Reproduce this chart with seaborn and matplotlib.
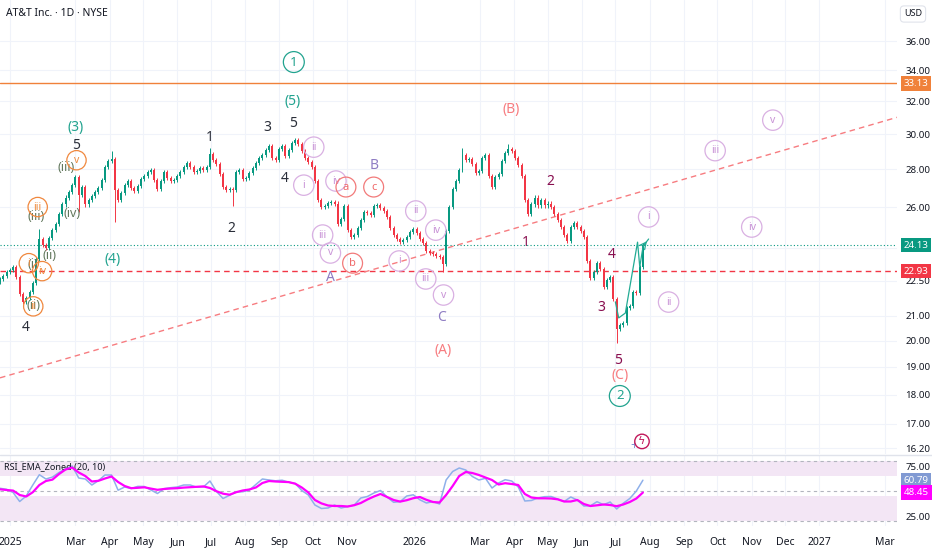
import numpy as np
import pandas as pd
import matplotlib
matplotlib.use("Agg")
import matplotlib.pyplot as plt
import matplotlib.dates as mdates
import matplotlib.transforms as mtrans
from matplotlib.lines import Line2D
from matplotlib.ticker import NullLocator
import seaborn as sns

""" DATA (read off the chart) """
start = "2024-12-23"
open_first = 22.45

# closes, one candle per ~2 sessions
close_a = [22.58, 22.72, 22.90, 22.98, 23.12, 22.67, 21.94, 21.59, 21.77, 22.02,
           22.41, 23.48, 24.41, 24.12, 23.99, 24.46, 24.84, 25.13, 25.63, 26.13,
           26.49, 26.80, 27.16, 27.58, 26.64, 27.05, 26.13, 26.38, 26.59, 26.80,
           27.00, 27.42, 28.12, 28.45, 28.59, 26.90, 26.38, 26.74, 27.16, 27.37,
           27.00, 26.85, 27.10, 27.47, 27.64, 27.85, 27.96, 27.42, 26.95, 27.37]
close_b = [27.85, 27.53, 27.37, 27.42, 27.64, 27.85, 28.12, 28.34, 28.12, 27.85,
           27.90, 28.07, 27.98, 28.10, 28.87, 28.51, 28.29, 27.74, 27.05, 26.90,
           26.95, 26.90, 27.85, 27.96, 27.47, 27.53, 27.80, 28.07, 28.34, 28.65,
           28.81, 29.10, 29.28, 28.65, 28.51, 29.16, 29.28, 28.76, 29.10, 29.46,
           29.67, 29.40, 29.04, 28.65, 28.40, 28.12, 27.37, 26.38, 25.98, 26.03]
close_c = [26.23, 26.28, 26.18, 25.13, 25.38, 26.03, 24.84, 24.51, 24.60, 24.94,
           25.33, 25.73, 25.68, 25.58, 26.03, 26.08, 25.93, 25.78, 25.48, 24.94,
           24.60, 24.41, 24.30, 24.36, 24.51, 24.75, 24.89, 24.70, 24.41, 24.22,
           23.85, 23.76, 23.71, 23.64, 23.58, 23.25, 24.79, 25.98, 26.95, 27.37,
           27.96, 28.81, 28.51, 28.59, 28.29, 27.80, 27.90, 28.65, 28.81, 27.64]
close_d = [27.05, 27.58, 27.74, 28.45, 28.92, 29.16, 29.04, 28.65, 28.23, 27.64,
           26.38, 25.63, 26.13, 26.49, 26.08, 26.38, 26.08, 26.18, 25.98, 25.63,
           25.33, 24.99, 24.60, 24.32, 24.99, 25.18, 24.99, 24.79, 24.51, 23.39,
           22.62, 22.89, 23.30, 23.03, 22.23, 22.53, 22.67, 21.72, 20.48, 20.64,
           20.72, 21.33, 21.42, 22.02, 21.98, 23.12, 24.13]

# long wicks (candle number, extreme price)
wick_idx = [12, 24, 34, 35, 64, 71, 135, 141, 155, 188]
wick_val = [24.89, 25.73, 29.04, 25.23, 29.20, 26.03, 22.90, 29.20, 29.40, 19.90]

# RSI and its EMA, one point per ~4 sessions
rsi_a = [52.7, 51.7, 48.5, 39.5, 45.0, 56.0, 66.3, 62.0, 64.0, 68.5,
         72.3, 75.0, 63.0, 62.0, 56.0, 60.3, 66.0, 66.0, 50.8, 54.0,
         52.5, 54.6, 54.5, 51.0, 47.5, 52.3, 53.3, 54.0, 56.0, 56.0,
         53.8, 54.0, 60.0, 49.5, 42.5, 45.7, 49.0, 49.3, 50.8, 56.5,
         62.0, 61.0, 60.2, 60.8, 58.8, 57.5, 50.5, 46.0, 36.0]
rsi_b = [32.5, 33.0, 36.0, 33.0, 34.5, 36.0, 43.0, 44.5, 48.0, 50.5,
         44.0, 38.7, 39.4, 45.0, 46.2, 41.2, 38.0, 39.3, 37.0, 61.0,
         69.5, 73.0, 71.0, 64.5, 61.0, 62.7, 53.0, 58.0, 61.3, 60.0,
         54.0, 40.0, 40.5, 43.0, 44.3, 44.5, 42.0, 39.5, 44.0, 41.0,
         35.0, 35.2, 39.3, 36.3, 39.0, 32.0, 37.7, 42.5, 50.0, 60.79]
ema_a = [51.7, 51.0, 50.4, 46.0, 44.5, 48.8, 56.0, 60.0, 61.4, 67.0,
         71.5, 73.5, 68.5, 65.0, 59.5, 60.2, 62.5, 64.5, 59.0, 55.0,
         52.8, 53.2, 53.7, 52.4, 51.2, 52.0, 52.5, 52.8, 53.4, 53.8,
         54.2, 54.6, 53.0, 49.8, 47.3, 46.3, 48.8, 50.5, 51.5, 53.5,
         58.0, 60.0, 59.5, 59.2, 58.9, 57.3, 53.5, 48.5, 41.0]
ema_b = [37.6, 35.5, 35.0, 35.0, 34.5, 35.8, 38.0, 41.5, 44.5, 47.0,
         44.0, 41.0, 39.4, 40.8, 42.8, 44.0, 41.2, 39.0, 38.5, 46.0,
         55.0, 65.0, 69.0, 68.0, 66.0, 63.5, 61.0, 56.5, 57.8, 57.0,
         56.0, 47.0, 43.5, 42.7, 42.7, 42.5, 41.7, 39.5, 39.5, 41.0,
         37.0, 35.0, 35.7, 36.5, 36.0, 34.8, 36.5, 39.0, 42.5, 48.45]

# horizontal levels and trend line
level_orange = 33.13
level_last = 24.13
level_red = 22.93
trend_dates = ["2024-12-23", "2027-03-12"]
trend_prices = [18.6, 31.0]

# projected path drawing
path_dates = ["2026-07-01", "2026-07-04", "2026-07-10", "2026-07-21", "2026-07-23", "2026-07-26", "2026-07-31"]
path_prices = [21.59, 20.92, 21.12, 24.27, 23.12, 24.08, 24.42]

price_ticks = [36, 34, 32, 30, 28, 26, 24, 22.5, 21, 20, 19, 18, 17, 16.2]
hidden_ticks = [24]   # covered by the last-price badge
month_ticks = ["2025-01-01", "2025-03-01", "2025-04-01", "2025-05-01", "2025-06-01", "2025-07-01",
               "2025-08-01", "2025-09-01", "2025-10-01", "2025-11-01", "2026-01-01", "2026-03-01",
               "2026-04-01", "2026-05-01", "2026-06-01", "2026-07-01", "2026-08-01", "2026-09-01",
               "2026-10-01", "2026-11-01", "2026-12-01", "2027-01-01", "2027-03-01"]
month_labels = ["2025", "Mar", "Apr", "May", "Jun", "Jul", "Aug", "Sep", "Oct", "Nov", "2026", "Mar",
                "Apr", "May", "Jun", "Jul", "Aug", "Sep", "Oct", "Nov", "Dec", "2027", "Mar"]

# wave labels (text, date, price)
teal_labels = [("(3)", "2025-03-01", 30.41), ("(5)", "2025-09-13", 32.0), ("(4)", "2025-04-04", 23.48)]
teal_circles = [("1", "2025-09-14", 34.55), ("2", "2026-07-05", 17.95)]
black_labels = [("4", "2025-01-15", 20.55), ("5", "2025-03-02", 29.35), ("1", "2025-06-30", 29.77),
                ("2", "2025-07-20", 24.95), ("3", "2025-08-21", 30.41), ("4", "2025-09-06", 27.52),
                ("5", "2025-09-13", 30.65)]
olive_labels = [("(iii)", "2025-02-21", 28.07), ("(iv)", "2025-02-26", 25.69), ("(iii)", "2025-01-25", 25.5),
                ("(ii)", "2025-02-06", 23.66), ("(i)", "2025-01-22", 23.25), ("(ii)", "2025-01-22", 21.45)]
orange_circles = [("v", "2025-03-02", 28.5), ("iii", "2025-01-26", 26.0), ("i", "2025-01-18", 23.29),
                  ("iv", "2025-01-30", 22.93), ("ii", "2025-01-22", 21.4)]
purple_circles = [("i", "2025-09-23", 27.14), ("ii", "2025-10-02", 29.24), ("iii", "2025-10-10", 24.61),
                  ("iv", "2025-10-22", 27.36), ("v", "2025-10-17", 23.76),
                  ("i", "2025-12-18", 23.39), ("ii", "2026-01-02", 25.8), ("iii", "2026-01-11", 22.58),
                  ("iv", "2026-01-20", 24.85), ("v", "2026-01-27", 21.88),
                  ("i", "2026-07-31", 25.5), ("ii", "2026-08-18", 21.58), ("iii", "2026-09-29", 29.04),
                  ("iv", "2026-11-01", 25.0), ("v", "2026-11-20", 30.83)]
purple_letters = [("A", "2025-10-17", 22.66), ("B", "2025-11-25", 28.23), ("C", "2026-01-25", 20.92)]
red_circles = [("a", "2025-10-31", 27.04), ("b", "2025-11-06", 23.29), ("c", "2025-11-25", 27.04)]
red_labels = [("(A)", "2026-01-27", 19.64), ("(B)", "2026-03-29", 31.45), ("(C)", "2026-07-05", 18.67)]
maroon_labels = [("1", "2026-04-11", 24.23), ("2", "2026-05-03", 27.36), ("3", "2026-06-18", 21.37),
                 ("4", "2026-06-28", 23.71), ("5", "2026-07-03", 19.26)]

GREEN = "#089981"
RED = "#f23645"
TEXT = "#131722"

""" SETUP """
sns.set_theme(style="white")
plt.rcParams["font.family"] = ["Noto Sans", "DejaVu Sans"]

W, H = 932, 550
fig = plt.figure(figsize=(W / 100, H / 100), dpi=100)
ax = fig.add_axes([0, 1 - 454 / H, 897 / W, 454 / H])
axr = fig.add_axes([0, 1 - 526 / H, 897 / W, 71 / H])

num = lambda d: mdates.datestr2num(d)

""" CANDLES """
closes = close_a + close_b + close_c + close_d
df = pd.DataFrame({"x": mdates.date2num(pd.date_range(start, periods=len(closes), freq="71h")),
                   "close": closes})
df["open"] = [open_first] + closes[:-1]
df["top"] = df[["open", "close"]].max(axis=1)
df["bot"] = df[["open", "close"]].min(axis=1)
df["high"] = df["top"] * 1.004
df["low"] = df["bot"] / 1.004
for i, v in zip(wick_idx, wick_val):
    if v > df.loc[i, "top"]:
        df.loc[i, "high"] = v
    else:
        df.loc[i, "low"] = v
colors = np.where(df["close"] >= df["open"], GREEN, RED)

ax.set_yscale("log")
ax.vlines(df["x"], df["low"], df["high"], colors=colors, lw=0.7, zorder=3)
ax.bar(df["x"], (df["top"] - df["bot"]).clip(lower=0.04), bottom=df["bot"], width=1.8,
       color=colors, linewidth=0, zorder=4)

# levels
ax.axhline(level_orange, color="#f0813a", lw=1.0, zorder=2)
ax.axhline(level_last, color=GREEN, lw=0.8, ls=(0, (1, 2)), zorder=2)
ax.axhline(level_red, color=RED, lw=1.0, ls=(0, (4, 3)), zorder=2)
ax.plot([num(d) for d in trend_dates], trend_prices, color="#f77c80", lw=1.0, ls=(0, (4, 3)), zorder=2)

# projected path
px = [num(d) for d in path_dates]
ax.plot(px, path_prices, color="#22ab94", lw=0.9, zorder=5)
ax.annotate("", xy=(px[-1], path_prices[-1]), xytext=(px[-2], path_prices[-2]),
            arrowprops=dict(arrowstyle="->", color="#22ab94", lw=0.9), zorder=5)

""" WAVE LABELS """
def put(items, color, size, circle=None, pad=0.3, weight="normal"):
    for t, d, p in items:
        kw = {}
        if circle:
            kw["bbox"] = dict(boxstyle=f"circle,pad={pad}", fc="none", ec=circle, lw=0.9)
        ax.text(num(d), p, t, color=color, fontsize=size, ha="center", va="center",
                zorder=6, fontweight=weight, **kw)

put(teal_labels, "#22a38f", 10)
put(teal_circles, "#22a38f", 9.5, circle="#22a38f", pad=0.3)
put(black_labels, "#2a2e39", 10)
put(olive_labels, "#62785d", 9)
put(orange_circles, "#ee8a3c", 7.5, circle="#f0883e", pad=0.4)
put(purple_circles, "#c892d6", 7.5, circle="#d9b0e2", pad=0.45)
put(purple_letters, "#8e7cc3", 10)
put(red_circles, "#f06a6a", 8, circle="#f27a7a", pad=0.4)
put(red_labels, "#f77c80", 10)
put(maroon_labels, "#880e4f", 10)

# alert icon under the last bars
ax.text(num("2026-07-18"), 16.28, "+", color="#7b8fd0", fontsize=9, ha="center", va="center",
        fontweight="bold", zorder=6)
ax.text(num("2026-07-25"), 16.42, "\u03df", color="#c2185b", fontsize=8, ha="center", va="center",
        family="DejaVu Sans", zorder=6,
        bbox=dict(boxstyle="circle,pad=0.2", fc="white", ec="#c2185b", lw=1.0))

""" AXES """
xlim = (num("2024-12-23"), num("2027-03-12"))
ax.set_xlim(xlim)
ax.set_ylim(16.02, 39.02)
ax.yaxis.set_minor_locator(NullLocator())
ax.yaxis.tick_right()
ax.set_yticks(price_ticks, ["" if t in hidden_ticks else f"{t:.2f}" for t in price_ticks])
ax.tick_params(axis="y", length=0, pad=6, labelsize=7, labelcolor=TEXT)
ax.tick_params(axis="x", length=0, labelbottom=False)
for t in price_ticks:
    ax.axhline(t, color="#f0f3fa", lw=0.8, zorder=0)
for m in month_ticks:
    ax.axvline(num(m), color="#f0f3fa", lw=0.8, zorder=0)
    axr.axvline(num(m), color="#f0f3fa", lw=0.8, zorder=0)

""" RSI PANE """
rsi = pd.DataFrame({"x": mdates.date2num(pd.date_range(start, periods=len(rsi_a + rsi_b), freq="142h")),
                    "rsi": rsi_a + rsi_b, "ema": ema_a + ema_b})
axr.axhspan(65, 80, color="#f3e6f5", lw=0, zorder=0)
axr.axhspan(20, 45, color="#f3e6f5", lw=0, zorder=0)
for lvl in (80, 50, 20):
    axr.axhline(lvl, color="#b2b5be", lw=0.8, ls=(0, (3, 3)), zorder=1)
sns.lineplot(data=rsi, x="x", y="rsi", ax=axr, color="#8fb0ea", lw=1.1, zorder=3)
sns.lineplot(data=rsi, x="x", y="ema", ax=axr, color="#ff00ff", lw=1.6, zorder=4)
axr.set_xlim(xlim)
axr.set_ylim(15, 86)
axr.set_xlabel("")
axr.set_ylabel("")
axr.yaxis.tick_right()
axr.set_yticks([75, 25], ["75.00", "25.00"])
axr.tick_params(axis="y", length=0, pad=6, labelsize=7, labelcolor=TEXT)
axr.set_xticks([num(m) for m in month_ticks], month_labels)
axr.tick_params(axis="x", length=0, pad=8, labelsize=7.5, labelcolor=TEXT)
for lab in axr.get_xticklabels():
    if lab.get_text().isdigit():
        lab.set_fontweight("bold")
axr.text(0.005, 0.83, "RSI_EMA_Zoned (20, 10)", transform=axr.transAxes, fontsize=6.5,
         color=TEXT, va="center")

for a in (ax, axr):
    for s in a.spines.values():
        s.set_visible(False)

""" BADGES """
def badge(a, val, text, fc):
    tr = mtrans.blended_transform_factory(a.transAxes, a.transData)
    a.text(1.0075, val, text, transform=tr, ha="left", va="center", fontsize=7, color="white",
           zorder=10, clip_on=False, bbox=dict(boxstyle="square,pad=0.28", fc=fc, ec="none"))

badge(ax, level_orange, "33.13", "#f0813a")
badge(ax, level_last, "24.13", GREEN)
badge(ax, level_red, "22.93", RED)
badge(axr, rsi_b[-1], "60.79", "#819ad3")
badge(axr, ema_b[-1], "48.45", "#ff00ff")

fig.add_artist(Line2D([0, 1], [1 - 455 / H] * 2, color="#e0e3eb", lw=1))
fig.text(6 / W, 1 - 13 / H, "AT&T Inc. · 1D · NYSE", fontsize=7.5, color=TEXT,
         fontweight="semibold", va="center")
fig.text(913 / W, 1 - 14 / H, "USD", ha="center", va="center", fontsize=6.5, color=TEXT,
         bbox=dict(boxstyle="round,pad=0.4", fc="white", ec="#e0e3eb", lw=0.8))

fig.savefig("out.png", dpi=100)
